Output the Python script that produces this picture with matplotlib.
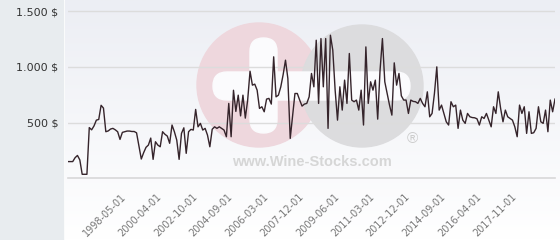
import numpy as np
import matplotlib.pyplot as plt
from matplotlib.patches import Ellipse, FancyBboxPatch, Rectangle
from matplotlib.transforms import Affine2D

# prices (one value per auction, category axis)
prices = [
    150, 150, 150, 185, 205, 165, 36, 36, 36, 455,
    435, 470, 522, 528, 655, 630, 418, 425, 442, 448,
    435, 418, 349, 412, 418, 424, 424, 420, 420, 408,
    290, 173, 230, 278, 298, 361, 170, 328, 298, 283,
    418, 395, 379, 314, 478, 418, 343, 170, 403, 453,
    224, 418, 439, 433, 618, 462, 493, 433, 448, 388,
    283, 440, 462, 448, 462, 448, 433, 373, 672, 373,
    790, 600, 746, 560, 746, 540, 702, 961, 836, 845,
    791, 627, 642, 597, 711, 717, 666, 1090, 731, 746,
    820, 930, 1060, 896, 358, 560, 761, 761, 702, 648,
    666, 672, 731, 941, 821, 1239, 672, 1254, 821, 1254,
    448, 1284, 1150, 791, 522, 821, 612, 881, 672, 1120,
    702, 687, 702, 612, 791, 478, 1179, 672, 866, 791,
    881, 531, 970, 1254, 866, 761, 657, 567, 1036, 836,
    941, 740, 702, 702, 582, 702, 690, 687, 672, 717,
    672, 642, 776, 552, 582, 761, 1000, 612, 657, 582,
    507, 478, 687, 642, 657, 448, 612, 522, 493, 582,
    552, 545, 543, 534, 478, 552, 537, 582, 522, 462,
    642, 582, 776, 627, 507, 612, 552, 537, 522, 462,
    373, 657, 582, 642, 403, 597, 403, 409, 448, 642,
    507, 493, 612, 418, 702, 597, 711,
]
date_labels = ['1998-05-01', '2000-04-01', '2002-10-01', '2004-09-01',
               '2006-03-01', '2007-12-01', '2009-06-01', '2011-03-01',
               '2012-12-01', '2014-09-01', '2016-04-01', '2017-11-01']
y_ticks = [500, 1000, 1500]

W, H = 560, 240
fig = plt.figure(figsize=(W / 100, H / 100), dpi=100)
fig.patch.set_facecolor('white')

# pixel transform (origin top-left)
px = Affine2D().scale(1 / 100, -1 / 100).translate(0, H / 100) + fig.dpi_scale_trans

# left grey panel + light gradient behind plot
fig.add_artist(Rectangle((0, 0), 63, H, transform=px, color='#e8ecef', zorder=-5))
bg = fig.add_axes([65 / W, 0, 1 - 65 / W, 1], zorder=-3)
grad = np.linspace(0, 1, 200)[:, None]
bg.imshow(grad, aspect='auto', cmap=plt.cm.colors.LinearSegmentedColormap.from_list(
    'g', ['#eceef4', '#ffffff']), extent=[0, 1, 0, 1])
bg.axis('off')

ax = fig.add_axes([68 / W, 1 - 178.3 / H, (555 - 68) / W, 178.3 / H])
ax.set_facecolor('none')

# watermark
wm = dict(transform=px, clip_on=False)
ax.add_artist(Ellipse((259, 85), 124, 124, color='#eed7dd', zorder=0.2, **wm))
ax.add_artist(Ellipse((362, 86), 122, 122, color='#dcdcde', zorder=0.25, **wm))
ax.add_artist(FancyBboxPatch((213, 72), 197, 28, boxstyle='round,pad=0,rounding_size=14',
                             color='#fbfbfd', zorder=0.3, **wm))
ax.add_artist(FancyBboxPatch((250, 38), 27, 95, boxstyle='round,pad=0,rounding_size=13.5',
                             color='#fbfbfd', zorder=0.3, **wm))
fig.text(312 / W, 1 - 162 / H, 'www.Wine-Stocks.com', ha='center', va='center',
         fontsize=10.5, fontweight='bold', family='Liberation Sans', color='#d6d6d6')
fig.text(412 / W, 1 - 139 / H, '\u00ae', ha='center', va='center',
         fontsize=11, family='Liberation Sans', color='#cccccc')

x = np.arange(len(prices))
ax.plot(x, prices, color='#35242b', lw=1.0, zorder=3)

ax.set_xlim(0, len(prices) - 1)
ax.set_ylim(0, 1600)
ax.set_yticks(y_ticks)
ax.set_yticklabels([f'{v:,} $'.replace(',', '.') for v in y_ticks])
ax.grid(axis='y', color='#dcdcdc', lw=1)
ax.axhline(0, color='#d8d8d8', lw=1.2, zorder=1, clip_on=False)

ax.set_xticks(np.arange(24, 24 + 15 * len(date_labels), 15))
ax.set_xticklabels(date_labels, rotation=45, ha='right', va='center',
                   rotation_mode='anchor')
ax.tick_params(axis='x', length=0, pad=12, labelsize=7, labelcolor='#777777')
ax.tick_params(axis='y', length=0, pad=7, labelsize=8, labelcolor='#333333')
for s in ax.spines.values():
    s.set_visible(False)

fig.savefig('out.png', dpi=100)
